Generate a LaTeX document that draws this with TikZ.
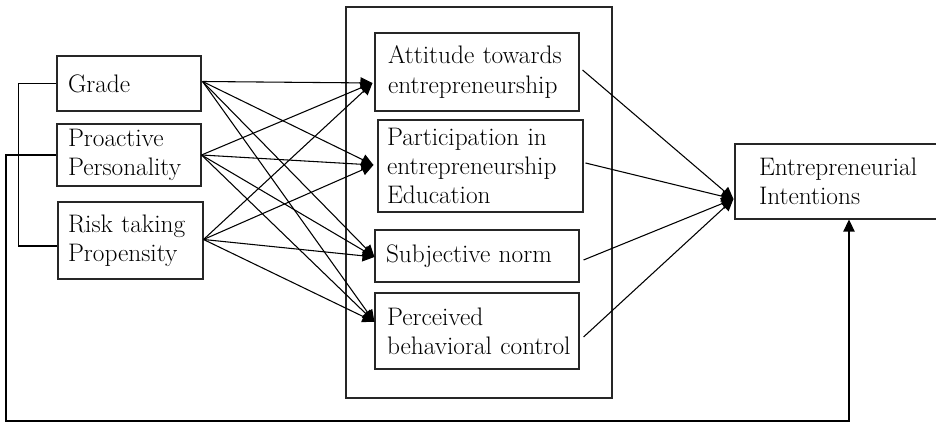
\documentclass[tikz,border=0pt]{standalone}
\usetikzlibrary{arrows.meta,calc}
\begin{document}
\begin{tikzpicture}[x=0.75pt,y=-0.75pt,
  line width=0.8pt,
  box/.style={draw=black!85, rectangle, inner ysep=0pt, align=left,
    font=\fontsize{19}{22}\selectfont},
  arr/.style={-{Triangle[length=9pt,width=8.5pt]}}]
\useasboundingbox (0,0) rectangle (936,423);
% container
\node[draw=black!85, rectangle, minimum width={266*0.75pt}, minimum height={391*0.75pt}] (cont) at (479,202.5) {};
% left boxes
\node[box, minimum width={144*0.75pt}, minimum height={55*0.75pt}, inner xsep={11*0.75pt}, text width={122*0.75pt}] (grade) at (129,83.5) {Grade};
\node[box, minimum width={144*0.75pt}, minimum height={62*0.75pt}, inner xsep={11*0.75pt}, text width={122*0.75pt}] (pro) at (129,155) {Proactive\\Personality};
\node[box, minimum width={145*0.75pt}, minimum height={77*0.75pt}, inner xsep={10*0.75pt}, text width={125*0.75pt}] (risk) at (130.5,240.5) {Risk taking\\Propensity};
% middle boxes
\node[box, minimum width={204*0.75pt}, minimum height={78*0.75pt}, inner xsep={13*0.75pt}, text width={178*0.75pt}] (att) at (477,72) {Attitude towards\\entrepreneurship};
\node[box, minimum width={205*0.75pt}, minimum height={92*0.75pt}, inner xsep={9*0.75pt}, text width={187*0.75pt}] (part) at (480.5,166) {Participation in\\entrepreneurship\\Education};
\node[box, minimum width={204*0.75pt}, minimum height={52*0.75pt}, inner xsep={11*0.75pt}, text width={182*0.75pt}] (subj) at (477,256) {Subjective norm};
\node[box, minimum width={204*0.75pt}, minimum height={76*0.75pt}, inner xsep={12*0.75pt}, text width={180*0.75pt}] (perc) at (477,331) {Perceived\\\mbox{behavioral control}};
% outcome
\node[box, minimum width={205*0.75pt}, minimum height={75*0.75pt}, inner xsep={24*0.75pt}, text width={157*0.75pt}] (ei) at (837.5,181.5) {Entrepreneurial\\Intentions};
% helper coordinates
\coordinate (tA) at ($(att.west)+(-2,11)$);
\coordinate (tP) at ($(part.west)+(-4,-1)$);
\coordinate (tS) at ($(subj.west)+(0,1)$);
\coordinate (tC) at ($(perc.west)+(0,-9)$);
\coordinate (tE) at ($(ei.west)+(-1,17.5)$);
\coordinate (oA) at ($(att.east)+(3,-2)$);
\coordinate (oP) at ($(part.east)+(2,-3)$);
\coordinate (oS) at ($(subj.east)+(4,4)$);
\coordinate (oC) at ($(perc.east)+(4,6)$);
\coordinate (sG) at ($(grade.east)+(1,-2)$);
\coordinate (sR) at ($(risk.east)+(0,-1)$);
\coordinate (lc) at (6,421);
\coordinate (eib) at ($(ei.south)+(11.5,0)$);
% arrows from predictors
\foreach \s in {sG,pro.east,sR}{
  \foreach \t in {tA,tP,tS,tC}{
    \draw[arr] (\s) -- (\t);
  }
}
% arrows to intentions
\foreach \s in {oA,oP,oS,oC}{
  \draw[arr] (\s) -- (tE);
}
% bracket
\draw (grade.west) -- ++(-38,0) |- ($(risk.west)+(0,5.5)$);
% feedback loop
\draw[arr] (pro.west) -| (lc) -| (eib);
\end{tikzpicture}
\end{document}
